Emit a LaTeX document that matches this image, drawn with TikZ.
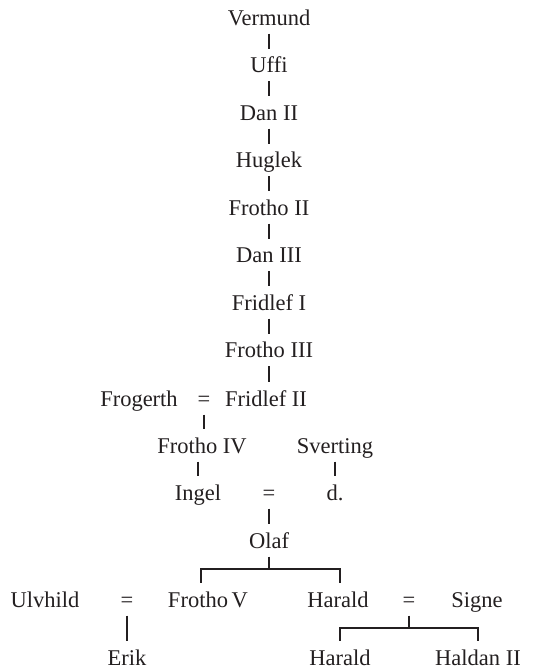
\documentclass[tikz,border=0pt]{standalone}
\usepackage{fontspec}
\setmainfont{Liberation Serif}
\definecolor{ink}{HTML}{231F20}
\begin{document}
\begin{tikzpicture}[x=1pt,y=-1pt,
  nm/.style={anchor=base,inner xsep=0pt,inner ysep=8.5pt,text height=15pt,text depth=0pt,font=\fontsize{22.5}{26}\selectfont,text=ink},
  ln/.style={draw=ink,line width=2.4pt}]
\useasboundingbox (0,0) rectangle (539,672);
\node[nm] (vermund) at (269,25) {Vermund};
\node[nm] (uffi) at (269,72.5) {Uffi};
\node[nm] (dan2) at (269,120) {Dan II};
\node[nm] (huglek) at (269,167.5) {Huglek};
\node[nm] (frotho2) at (269,215) {Frotho II};
\node[nm] (dan3) at (269,262.5) {Dan III};
\node[nm] (fridlef1) at (269,310) {Fridlef I};
\node[nm] (frotho3) at (269,357.5) {Frotho III};
\node[nm] (frogerth) at (139,406) {Frogerth};
\node[nm] (eq1) at (204,406) {=};
\node[nm] (fridlef2) at (266,406) {Fridlef II};
\node[nm] (frotho4) at (202,453) {Frotho IV};
\node[nm] (sverting) at (335,453) {Sverting};
\node[nm] (ingel) at (198,500) {Ingel};
\node[nm] (eq2) at (269,500) {=};
\node[nm] (d) at (335,500) {d.};
\node[nm] (olaf) at (269,548) {Olaf};
\node[nm] (ulvhild) at (45,607) {Ulvhild};
\node[nm] (eq3) at (127,607) {=};
\node[nm] (frotho5) at (208,607) {Frotho\,V};
\node[nm] (harald) at (338,607) {Harald};
\node[nm] (eq4) at (409,607) {=};
\node[nm] (signe) at (477,607) {Signe};
\node[nm] (erik) at (127,665) {Erik};
\node[nm] (harald2) at (340,665) {Harald};
\node[nm] (haldan2) at (478,665) {Haldan II};
% main line
\draw[ln] (vermund.south) -- (uffi.north);
\draw[ln] (uffi.south) -- (dan2.north);
\draw[ln] (dan2.south) -- (huglek.north);
\draw[ln] (huglek.south) -- (frotho2.north);
\draw[ln] (frotho2.south) -- (dan3.north);
\draw[ln] (dan3.south) -- (fridlef1.north);
\draw[ln] (fridlef1.south) -- (frotho3.north);
\draw[ln] (frotho3.south) -- (frotho3.south |- fridlef2.north);
\draw[ln] (eq1.south) -- (eq1.south |- frotho4.north);
\draw[ln] (sverting.south) -- (d.north);
\draw[ln] (frotho4.south -| ingel.north) -- (ingel.north);
\draw[ln] (eq2.south) -- (olaf.north);
\draw[ln] (olaf.south) -- ++(0,12.5) -| ([xshift=-7pt]frotho5.north);
\draw[ln] (olaf.south) ++(0,12.5) -| ([xshift=2pt]harald.north);
\draw[ln] (eq3.south) -- (eq3.south |- erik.north);
\draw[ln] (eq4.south) -- ++(0,12) -| (harald2.north);
\draw[ln] (eq4.south) ++(0,12) -| (haldan2.north);
\end{tikzpicture}
\end{document}
